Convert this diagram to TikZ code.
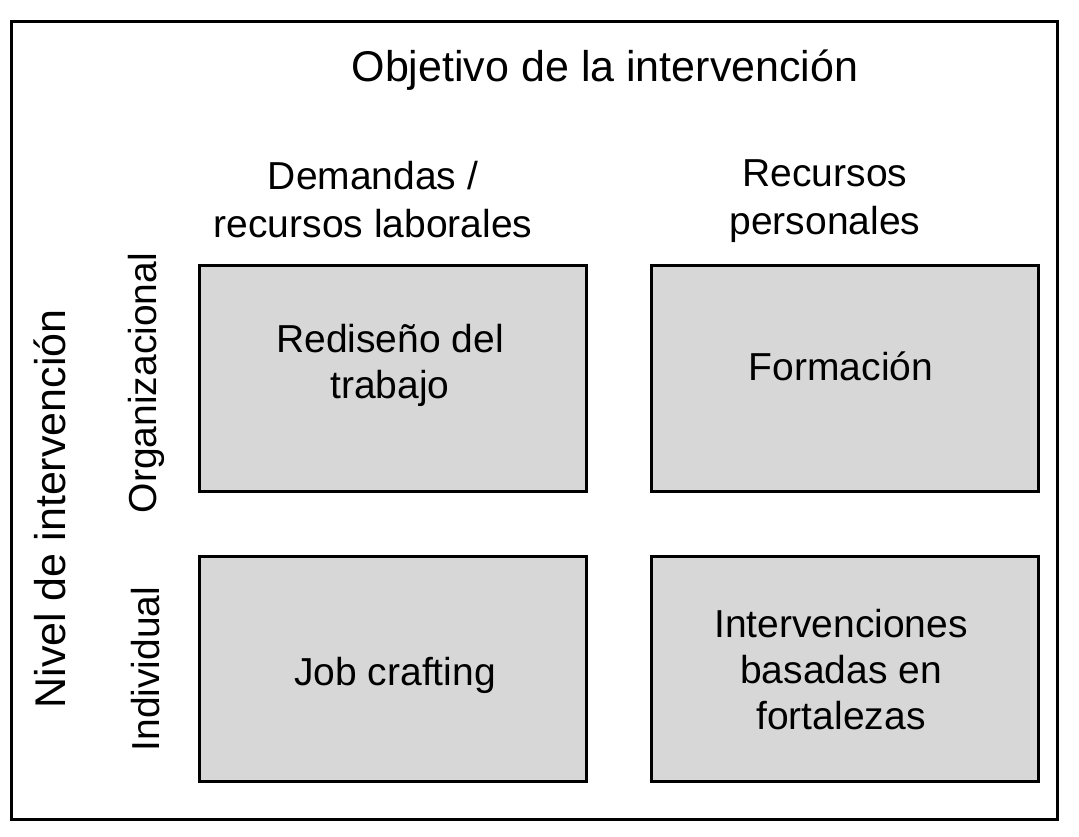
\documentclass[tikz,border=0pt]{standalone}
\usepackage{fontspec}
\setmainfont{Liberation Sans}
\begin{document}
\begin{tikzpicture}[x=1pt,y=-1pt,
  cell/.style={draw=black,line width=3pt,fill=boxgray},
  txt/.style={align=center,inner sep=0pt,font=\fontsize{39}{46}\selectfont},
  head/.style={align=center,inner sep=0pt,font=\fontsize{39}{48}\selectfont},
  big/.style={align=center,inner sep=0pt,font=\fontsize{43}{50}\selectfont}]
\definecolor{boxgray}{HTML}{D7D7D7}
\useasboundingbox (0,0) rectangle (1079,837);
\fill[white] (0,0) rectangle (1079,837);
\draw[line width=3pt] (11,22) rectangle (1057,819);
% boxes
\draw[cell] (199,265) rectangle (586,491) node[midway] (b11) {};
\draw[cell] (651,265) rectangle (1038,491) node[midway] (b12) {};
\draw[cell] (199,556) rectangle (586,781) node[midway] (b21) {};
\draw[cell] (651,556) rectangle (1038,781) node[midway] (b22) {};
% titles
\node[big] (title) at (605,70) {Objetivo de la intervención};
\node[head] (h1) at (373,200) {Demandas /\\recursos laborales};
\node[head] (h2) at (825,201) {Recursos\\personales};
\node[big,rotate=90] (lvl) at (50,509) {Nivel de intervención};
\node[txt,rotate=90] (r1) at (146,383) {Organizacional};
\node[txt,rotate=90] (r2) at (146,669) {Individual};
% contents
\node[txt] (t11) at (390,365) {Rediseño del\\trabajo};
\node[txt] (t12) at (841,366) {Formación};
\node[txt] (t21) at (395,675) {Job crafting};
\node[txt] (t22) at (841,670) {Intervenciones\\basadas en\\fortalezas};
\end{tikzpicture}
\end{document}
